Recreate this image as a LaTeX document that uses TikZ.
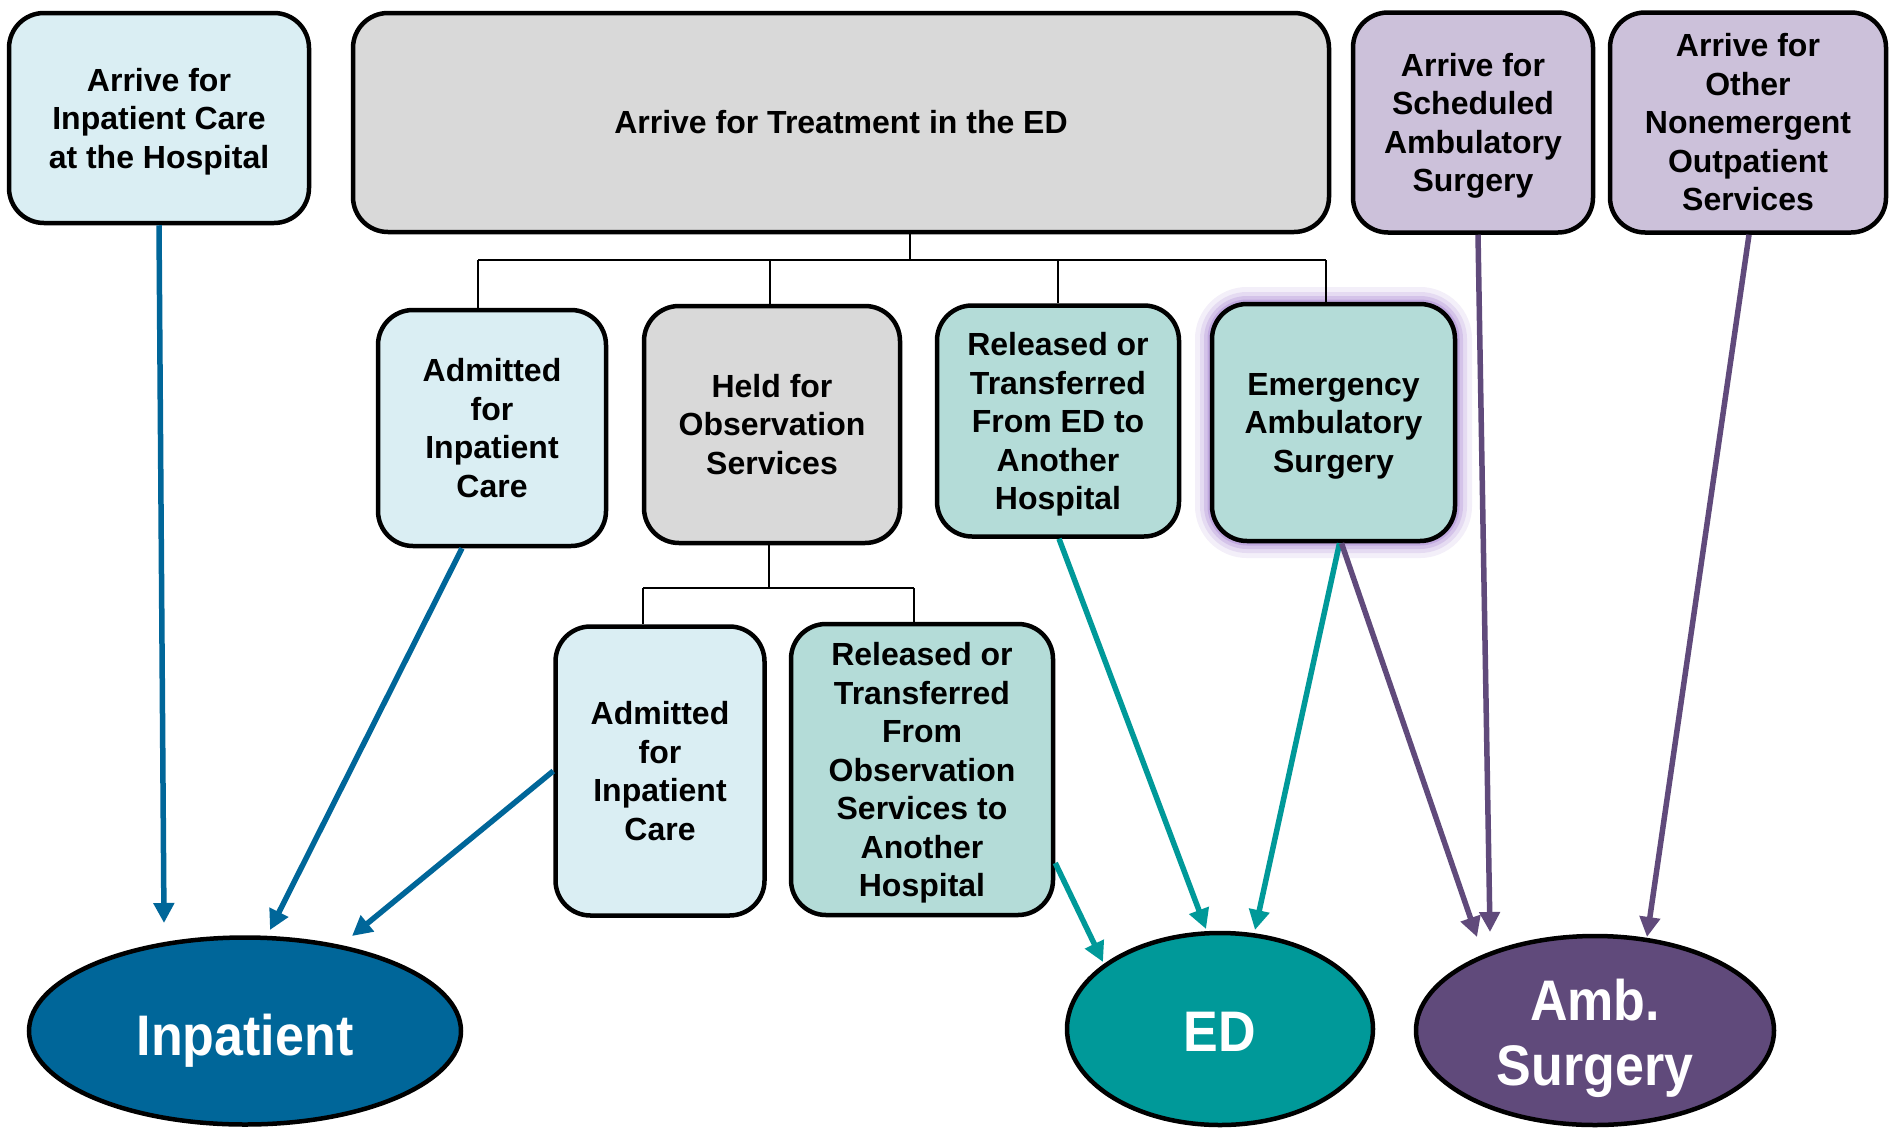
\documentclass[tikz,border=0pt]{standalone}
\usepackage{fontspec}
\usepackage{graphicx}
\setmainfont{Liberation Sans}
\usetikzlibrary{shapes.geometric,arrows.meta}
\definecolor{lblue}{HTML}{DAEEF3}
\definecolor{lgray}{HTML}{D9D9D9}
\definecolor{lpurp}{HTML}{CCC1DA}
\definecolor{lteal}{HTML}{B4DCD8}
\definecolor{cblue}{HTML}{006699}
\definecolor{cteal}{HTML}{009999}
\definecolor{cpurp}{HTML}{604A7B}
\definecolor{glowc}{RGB}{146,103,201}
% last line without descender depth (keeps vertical centring as in the reference)
\newcommand\nodesc[1]{\raisebox{0pt}[\height][0pt]{#1}}
% vertically stretched ellipse label
\newcommand\tallt[1]{\scalebox{1}[1.1]{#1}}
\tikzset{
  box/.style={draw=black, line width=4.5pt, rounded corners=35pt, align=center, inner sep=0pt,
    font=\fontsize{32pt}{38.5pt}\selectfont\bfseries},
  oval/.style={ellipse, draw=black, line width=4.5pt, inner sep=0pt, text=white, align=center,
    font=\fontsize{52pt}{65pt}\selectfont\bfseries},
  tree/.style={draw=black, line width=2pt},
  arr/.style={line width=5.5pt, -{Triangle[length=20pt,width=20pt]}},
  glow/.style={
    preaction={draw=glowc, draw opacity=.10, line width=34pt},
    preaction={draw=glowc, draw opacity=.14, line width=24pt},
    preaction={draw=glowc, draw opacity=.20, line width=16pt},
    preaction={draw=glowc, draw opacity=.28, line width=9pt}}
}
\begin{document}
\begin{tikzpicture}[x=1pt,y=-1pt]
\useasboundingbox[fill=white] (0,0) rectangle (1889,1127);

% boxes
\node[box, fill=lblue, minimum width=300pt, minimum height=210pt] (arrIn) at (159,118) {Arrive for\\Inpatient Care\\\nodesc{at the Hospital}};
\node[box, fill=lgray, minimum width=976pt, minimum height=219pt] (arrED) at (841,122.5) {Arrive for Treatment in the ED};
\node[box, fill=lpurp, minimum width=240pt, minimum height=220pt] (sched) at (1473,122.5) {Arrive for\\Scheduled\\Ambulatory\\\nodesc{Surgery}};
\node[box, fill=lpurp, minimum width=276pt, minimum height=220pt] (other) at (1748,122.5) {Arrive for\\Other\\Nonemergent\\Outpatient\\Services};
\node[box, fill=lblue, minimum width=228pt, minimum height=236pt] (adm1) at (492,428) {Admitted\\for\\Inpatient\\Care};
\node[box, fill=lgray, minimum width=256pt, minimum height=237pt] (held) at (772,424.5) {Held for\\Observation\\Services};
\node[box, fill=lteal, minimum width=242pt, minimum height=231pt] (relED) at (1058,421) {Released or\\Transferred\\From ED to\\Another\\\nodesc{Hospital}};
\node[box, glow, fill=lteal, minimum width=243pt, minimum height=237pt] (emerg) at (1333.5,422.5) {Emergency\\Ambulatory\\\nodesc{Surgery}};
\node[box, fill=lblue, minimum width=209pt, minimum height=289pt] (adm2) at (660,771) {Admitted\\for\\Inpatient\\Care};
\node[box, fill=lteal, minimum width=262pt, minimum height=291pt] (relObs) at (922,769.5) {Released or\\Transferred\\From\\Observation\\Services to\\Another\\\nodesc{Hospital}};

% outcome ellipses
\node[oval, fill=cblue, minimum width=432pt, minimum height=187pt] (inp) at (245,1031) {\raisebox{-3.5pt}[41pt][0pt]{\tallt{Inpatient}}};
\node[oval, fill=cteal, minimum width=306pt, minimum height=192pt] (ed) at (1220,1029) {\raisebox{-2pt}[41pt][0pt]{\tallt{ED}}};
\node[oval, fill=cpurp, minimum width=358pt, minimum height=189pt] (amb) at (1595,1030.5) {\raisebox{0pt}[45pt][0pt]{\tallt{Amb.}}\\\raisebox{0pt}[\height][0pt]{\tallt{Surgery}}};

% tree connectors
\coordinate (busL) at (478,260);
\coordinate (busM) at (910,260);
\coordinate (busH) at (770,260);
\coordinate (busR) at (1058,260);
\coordinate (busE) at (1326,260);
\coordinate (obsM) at (769,588);
\coordinate (obsL) at (643,588);
\coordinate (obsR) at (914,588);
\draw[tree] (arrED.south -| busM) -- (busM);
\draw[tree] (busL) -- (busE);
\draw[tree] (busL) -- (adm1.north -| busL);
\draw[tree] (busH) -- (held.north -| busH);
\draw[tree] (busR) -- (relED.north -| busR);
\draw[tree] (busE) -- (emerg.north -| busE);
\draw[tree] (held.south -| obsM) -- (obsM);
\draw[tree] (obsL) -- (obsR);
\draw[tree] (obsL) -- (adm2.north -| obsL);
\draw[tree] (obsR) -- (relObs.north -| obsR);

% arrow tips
\coordinate (t1) at (164,923);
\coordinate (t2) at (270,930);
\coordinate (t3) at (352,936);
\coordinate (t4) at (1206,929);
\coordinate (t5) at (1255,930);
\coordinate (t6) at (1103,962);
\coordinate (t7) at (1477,937);
\coordinate (t8) at (1490,932);
\coordinate (t9) at (1647,937);

\draw[arr, cblue] (arrIn.south) -- (t1);
\draw[arr, cblue] ([xshift=-30pt]adm1.south) -- (t2);
\draw[arr, cblue] (adm2.west) -- (t3);
\draw[arr, cteal] ([xshift=1pt]relED.south) -- (t4);
\draw[arr, cteal] ([xshift=6pt]emerg.south) -- (t5);
\draw[arr, cteal] ([yshift=-93.5pt]relObs.east) -- (t6);
\draw[arr, cpurp] ([xshift=8pt]emerg.south) -- (t7);
\draw[arr, cpurp] ([xshift=5pt]sched.south) -- (t8);
\draw[arr, cpurp] ([xshift=1pt]other.south) -- (t9);
\end{tikzpicture}
\end{document}
